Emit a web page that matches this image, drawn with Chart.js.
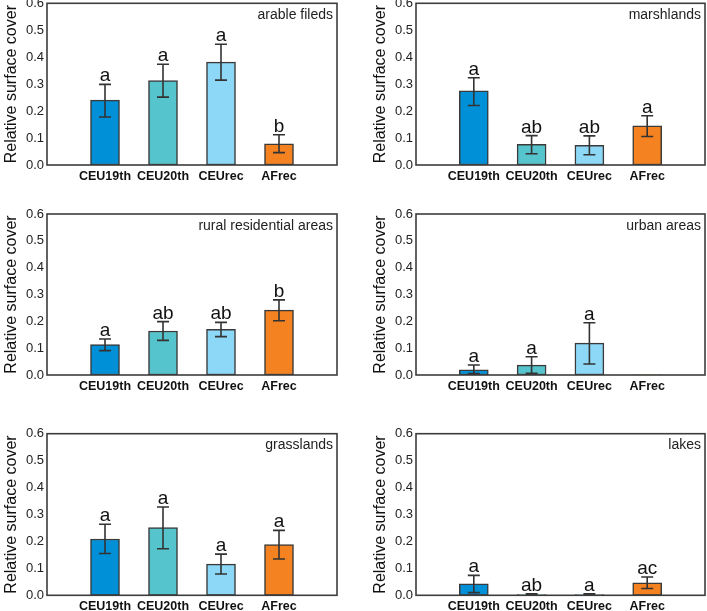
<!DOCTYPE html>
<html>
<head>
<meta charset="utf-8">
<script src="https://cdn.jsdelivr.net/npm/chart.js@4.4.1/dist/chart.umd.min.js"></script>
<style>
  html, body { margin: 0; padding: 0; background: #ffffff; }
  body { width: 707px; height: 611px; position: relative; overflow: hidden; }
  canvas { position: absolute; }
</style>
</head>
<body>
<script>
// ---------- data ----------
const categories = ['CEU19th', 'CEU20th', 'CEUrec', 'AFrec'];
const barColors = ['#0090d8', '#56c4cc', '#8cd8f6', '#f58220'];
const yTicks = [0.0, 0.1, 0.2, 0.3, 0.4, 0.5, 0.6];

const arableMean    = [0.241, 0.313, 0.382, 0.079];
const arableUpper   = [0.299, 0.374, 0.448, 0.112];
const arableLower   = [0.178, 0.252, 0.315, 0.046];
const arableLetters = ['a', 'a', 'a', 'b'];

const marshMean    = [0.275, 0.077, 0.073, 0.145];
const marshUpper   = [0.324, 0.109, 0.108, 0.183];
const marshLower   = [0.221, 0.042, 0.038, 0.106];
const marshLetters = ['a', 'ab', 'ab', 'a'];

const ruralMean    = [0.113, 0.164, 0.170, 0.242];
const ruralUpper   = [0.134, 0.199, 0.196, 0.280];
const ruralLower   = [0.091, 0.129, 0.143, 0.202];
const ruralLetters = ['a', 'ab', 'ab', 'b'];

const urbanMean    = [0.019, 0.037, 0.119, 0.001];
const urbanUpper   = [0.037, 0.068, 0.195, 0.001];
const urbanLower   = [0.005, 0.006, 0.041, 0.001];
const urbanLetters = ['a', 'a', 'a', ''];

const grassMean    = [0.209, 0.251, 0.116, 0.188];
const grassUpper   = [0.264, 0.328, 0.153, 0.241];
const grassLower   = [0.155, 0.173, 0.079, 0.135];
const grassLetters = ['a', 'a', 'a', 'a'];

const lakesMean    = [0.043, 0.003, 0.003, 0.046];
const lakesUpper   = [0.074, 0.006, 0.006, 0.068];
const lakesLower   = [0.010, 0.001, 0.001, 0.025];
const lakesLetters = ['a', 'ab', 'a', 'ac'];

const panelNames = ['arable fileds', 'marshlands', 'rural residential areas', 'urban areas', 'grasslands', 'lakes'];
const yTitle = 'Relative surface cover';

// ---------- layout (page pixels) ----------
const panels = [
  { name: panelNames[0], mean: arableMean, upper: arableUpper, lower: arableLower, letters: arableLetters, left: 0,   top: 0,   h: 200, cTop: 3.3,   cBot: 165,   padR: 1 },
  { name: panelNames[1], mean: marshMean,  upper: marshUpper,  lower: marshLower,  letters: marshLetters,  left: 369, top: 0,   h: 200, cTop: 3.3,   cBot: 165,   padR: 2 },
  { name: panelNames[2], mean: ruralMean,  upper: ruralUpper,  lower: ruralLower,  letters: ruralLetters,  left: 0,   top: 200, h: 200, cTop: 214,   cBot: 375,   padR: 1 },
  { name: panelNames[3], mean: urbanMean,  upper: urbanUpper,  lower: urbanLower,  letters: urbanLetters,  left: 369, top: 200, h: 200, cTop: 214,   cBot: 375,   padR: 2 },
  { name: panelNames[4], mean: grassMean,  upper: grassUpper,  lower: grassLower,  letters: grassLetters,  left: 0,   top: 420, h: 191, cTop: 433.7, cBot: 595.3, padR: 1 },
  { name: panelNames[5], mean: lakesMean,  upper: lakesUpper,  lower: lakesLower,  letters: lakesLetters,  left: 369, top: 420, h: 191, cTop: 433.7, cBot: 595.3, padR: 2 }
];
const CANVAS_W = 338;
const Y_AXIS_W = 47;

Chart.defaults.font.family = '"Liberation Sans", Arial, Helvetica, sans-serif';
Chart.defaults.color = '#222';

const decorPlugin = {
  id: 'decor',
  afterDatasetsDraw(chart, args, opts) {
    const ctx = chart.ctx;
    const p = opts.panel;
    const ys = chart.scales.y;
    const meta = chart.getDatasetMeta(0);
    ctx.save();
    // error bars
    ctx.strokeStyle = '#333';
    ctx.lineWidth = 1.6;
    p.mean.forEach((v, i) => {
      const bar = meta.data[i + 1];
      if (!bar) return;
      const x = bar.x;
      const yU = ys.getPixelForValue(p.upper[i]);
      const yL = ys.getPixelForValue(p.lower[i]);
      if (p.upper[i] === p.lower[i]) return;
      ctx.beginPath();
      ctx.moveTo(x, yU); ctx.lineTo(x, yL);
      ctx.moveTo(x - 6, yU); ctx.lineTo(x + 6, yU);
      ctx.moveTo(x - 6, yL); ctx.lineTo(x + 6, yL);
      ctx.stroke();
    });
    // significance letters
    ctx.fillStyle = '#111';
    ctx.font = '19px "Liberation Sans", Arial, sans-serif';
    ctx.textAlign = 'center';
    ctx.textBaseline = 'alphabetic';
    p.letters.forEach((t, i) => {
      if (!t) return;
      const bar = meta.data[i + 1];
      const yU = ys.getPixelForValue(p.upper[i]);
      ctx.fillText(t, bar.x, yU - 3);
    });
    // panel name
    const ca = chart.chartArea;
    ctx.fillStyle = '#222';
    ctx.font = '14px "Liberation Sans", Arial, sans-serif';
    ctx.textAlign = 'right';
    ctx.fillText(p.name, ca.right - 4, ca.top + 15.5);
    // frame
    ctx.strokeStyle = '#3c3c3c';
    ctx.lineWidth = 1.6;
    ctx.strokeRect(ca.left, ca.top, ca.right - ca.left, ca.bottom - ca.top);
    ctx.restore();
  }
};

panels.forEach((p) => {
  const cv = document.createElement('canvas');
  cv.width = CANVAS_W;
  cv.height = p.h;
  cv.style.width = CANVAS_W + 'px';
  cv.style.height = p.h + 'px';
  cv.style.left = p.left + 'px';
  cv.style.top = p.top + 'px';
  document.body.appendChild(cv);

  const padTop = p.cTop - p.top;
  const below = p.top + p.h - p.cBot;
  const xAxisH = Math.min(30, below);
  const padBottom = below - xAxisH;

  new Chart(cv, {
    type: 'bar',
    data: {
      labels: ['', ...categories, ''],
      datasets: [{
        data: [null, ...p.mean, null],
        backgroundColor: ['#fff', ...barColors, '#fff'],
        borderColor: '#3a3a3a',
        borderWidth: 1.5,
        borderSkipped: false,
        barThickness: 29
      }]
    },
    options: {
      responsive: false,
      animation: false,
      devicePixelRatio: window.devicePixelRatio || 1,
      layout: { padding: { top: padTop, bottom: padBottom, left: 0, right: p.padR } },
      plugins: {
        legend: { display: false },
        tooltip: { enabled: false },
        decor: { panel: p }
      },
      scales: {
        x: {
          type: 'category',
          offset: false,
          grid: { display: false, drawTicks: false },
          border: { display: false },
          ticks: {
            autoSkip: false,
            maxRotation: 0,
            minRotation: 0,
            padding: 4,
            color: '#111',
            font: { size: 12.5, weight: 'bold' }
          },
          afterFit(scale) {
            scale.height = xAxisH;
            scale.paddingLeft = 0;
            scale.paddingRight = 0;
          }
        },
        y: {
          min: 0,
          max: 0.6,
          afterBuildTicks(scale) {
            scale.ticks = yTicks.map(v => ({ value: v }));
          },
          grid: { display: false, drawTicks: false },
          border: { display: false },
          ticks: {
            padding: 3,
            color: '#222',
            font: { size: 13 },
            callback: (v) => Number(v).toFixed(1)
          },
          title: {
            display: true,
            text: yTitle,
            color: '#111',
            font: { size: 16 },
            padding: { top: 2, bottom: 0 }
          },
          afterFit(scale) {
            scale.width = Y_AXIS_W;
            scale.paddingTop = 0;
            scale.paddingBottom = 0;
          }
        }
      }
    },
    plugins: [decorPlugin]
  });
});
</script>
</body>
</html>
